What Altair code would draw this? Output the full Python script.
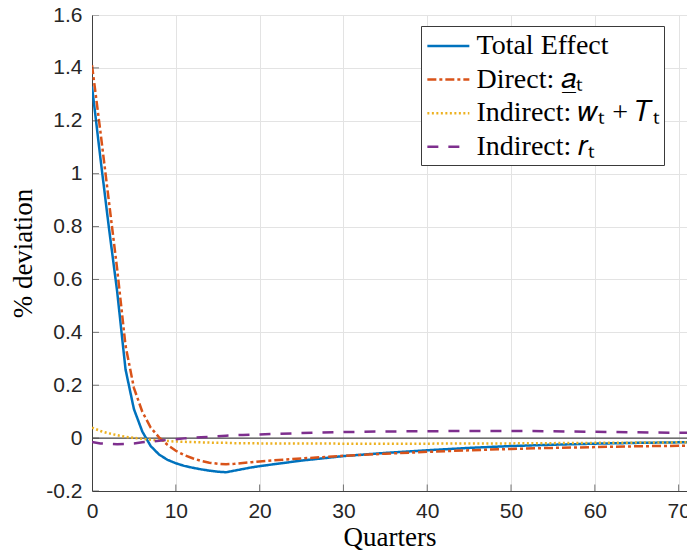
import altair as alt
import pandas as pd

# ---- data ----
quarters = list(range(0, 21)) + [25, 30, 35, 40, 45, 50, 55, 60, 65, 70, 71]

total_effect = [1.33, 1.06, 0.80, 0.555, 0.26, 0.11, 0.025, -0.03, -0.062, -0.082,
                -0.095, -0.105, -0.112, -0.118, -0.123, -0.127, -0.129, -0.123, -0.117, -0.111,
                -0.106, -0.085, -0.068, -0.056, -0.046, -0.037, -0.030, -0.025, -0.021, -0.018,
                -0.016, -0.016]
direct_a = [1.41, 1.16, 0.90, 0.64, 0.35, 0.19, 0.10, 0.04, 0.003, -0.025,
            -0.048, -0.064, -0.076, -0.086, -0.093, -0.097, -0.099, -0.097, -0.094, -0.091,
            -0.088, -0.077, -0.067, -0.059, -0.052, -0.046, -0.041, -0.037, -0.034, -0.031,
            -0.029, -0.029]
indirect_wT = [0.04, 0.027, 0.018, 0.011, 0.005, 0.001, -0.003, -0.006, -0.009, -0.011,
               -0.013, -0.014, -0.015, -0.016, -0.017, -0.018, -0.018, -0.019, -0.019, -0.019,
               -0.020, -0.020, -0.021, -0.021, -0.021, -0.020, -0.020, -0.019, -0.018, -0.017,
               -0.016, -0.016]
indirect_r = [-0.015, -0.020, -0.022, -0.023, -0.022, -0.020, -0.016, -0.013, -0.010, -0.007,
              -0.004, -0.001, 0.001, 0.003, 0.005, 0.007, 0.009, 0.011, 0.012, 0.013,
              0.014, 0.019, 0.023, 0.025, 0.026, 0.027, 0.027, 0.026, 0.024, 0.022,
              0.020, 0.020]

series_names = ["Total Effect", "Direct: 𝑎̲ₜ", "Indirect: 𝑤ₜ + 𝑇ₜ", "Indirect: 𝑟ₜ"]
series_colors = ["#0072BD", "#D95319", "#EDB120", "#7E2F8E"]
series_dashes = [[1, 0], [9, 3, 3, 3], [2, 2.5], [11, 10]]

x_ticks = [0, 10, 20, 30, 40, 50, 60, 70]
y_ticks = [-0.2, 0, 0.2, 0.4, 0.6, 0.8, 1.0, 1.2, 1.4, 1.6]

rows = []
for name, vals in zip(series_names, [total_effect, direct_a, indirect_wT, indirect_r]):
    for t, v in zip(quarters, vals):
        rows.append({"t": t, "v": v, "series": name})
df = pd.DataFrame(rows)

xscale = alt.Scale(domain=[0, 71], nice=False, zero=False)
yscale = alt.Scale(domain=[-0.2, 1.6], nice=False, zero=False)

xaxis = alt.Axis(values=x_ticks, grid=True, ticks=False, labelFlush=False, labelOverlap=False,
                 labelPadding=9, titlePadding=3)
yaxis = alt.Axis(values=y_ticks, grid=True, ticks=False, labelOverlap=False, labelPadding=10,
                 titlePadding=8,
                 labelExpr="replace(format(datum.value, '~g'), '−', '-')")

legend = alt.Legend(title=None, orient="none", legendX=329, legendY=11)

lines = alt.Chart(df).mark_line(strokeWidth=2.5, clip=True).encode(
    x=alt.X("t:Q", scale=xscale, axis=xaxis, title="Quarters"),
    y=alt.Y("v:Q", scale=yscale, axis=yaxis, title="% deviation"),
    color=alt.Color("series:N", scale=alt.Scale(domain=series_names, range=series_colors),
                    legend=legend),
    strokeDash=alt.StrokeDash("series:N", scale=alt.Scale(domain=series_names, range=series_dashes),
                              legend=legend),
    order=alt.Order("t:Q"),
)

zero_line = alt.Chart(pd.DataFrame({"v": [0.0]})).mark_rule(color="#4a4a4a", strokeWidth=1.2).encode(
    y=alt.Y("v:Q", scale=yscale, title="% deviation")
)

ytick_marks = alt.Chart(pd.DataFrame({"v": y_ticks})).mark_tick(
    clip=True, orient="horizontal", size=14, thickness=1, color="#404040").encode(
    x=alt.X(datum=0, scale=xscale),
    y=alt.Y("v:Q", scale=yscale, title="% deviation"),
)

xtick_marks = alt.Chart(pd.DataFrame({"t": x_ticks})).mark_tick(
    clip=True, orient="vertical", size=13, thickness=1, color="#404040").encode(
    x=alt.X("t:Q", scale=xscale, title="Quarters"),
    y=alt.Y(datum=-0.2, scale=yscale),
)

chart = alt.layer(zero_line, lines, ytick_marks, xtick_marks).properties(
    width=595, height=476,
    autosize=alt.AutoSizeParams(type="none"),
    padding={"left": 92, "top": 15, "right": 0, "bottom": 66},
    background="white",
).configure_view(stroke="transparent").configure_axis(
    domainColor="#404040", domainWidth=1,
    gridColor="#e3e3e3", gridWidth=1,
    labelFont="Liberation Sans", labelFontSize=21, labelColor="#262626",
    titleFont="Liberation Serif", titleFontSize=27, titleFontWeight="normal", titleColor="#000000",
).configure_legend(
    symbolType="M-0.91,0H1.89", symbolSize=900, symbolStrokeWidth=2.5,
    labelFont="Liberation Serif", labelFontSize=28, labelColor="#000000", labelOffset=19,
    labelLimit=400,
    strokeColor="#3a3a3a", fillColor="white", padding=3.5, rowPadding=2.6, cornerRadius=0,
)

chart.save("out.html", embed_options={"renderer": "svg", "actions": False})
